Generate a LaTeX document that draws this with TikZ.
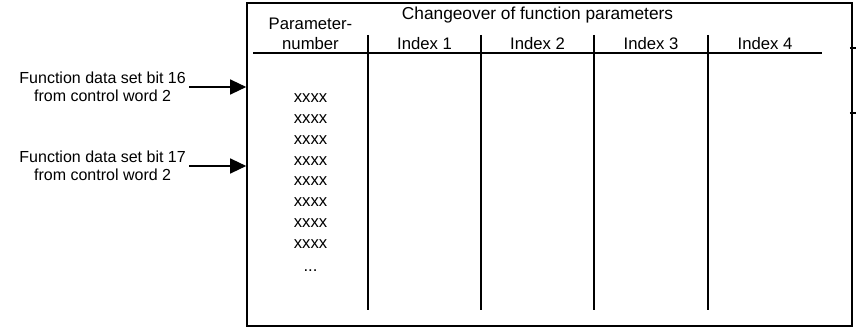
\documentclass[tikz,border=0pt]{standalone}
\usepackage{fontspec}
\setmainfont{Liberation Sans}
\usetikzlibrary{arrows.meta}
\begin{document}
\begin{tikzpicture}[x=1pt,y=1pt,
  tbl/.style={font=\fontsize{16.7}{19}\selectfont, inner sep=0pt, anchor=base},
  lbl/.style={font=\fontsize{16}{17.7}\selectfont, align=center, inner xsep=3pt, inner ysep=0pt, anchor=east},
  arr/.style={line width=1.3pt, -{Triangle[length=16pt,width=15pt]}},
  rule/.style={line width=1.3pt},
  frm/.style={draw, line width=1.6pt, minimum width=605pt, minimum height=323pt, inner sep=0pt}]
\useasboundingbox (0,0) rectangle (856,-334);
% frame
\node[frm] (frame) at (549.5,-164.5) {};
% grid
\coordinate (hl) at (253,-53);
\coordinate (hr) at (822,-53);
\draw[rule] (hl) -- (hr);
\foreach \cx [count=\i] in {368,481,594,708} {
  \coordinate (ct\i) at (\cx,-35);
  \coordinate (cb\i) at (\cx,-310);
  \draw[rule] (ct\i) -- (cb\i);
}
% header texts
\node[tbl, font=\fontsize{17.3}{19}\selectfont] (title) at (537.5,-20) {Changeover of function parameters};
\node[tbl] (pn1) at (310.5,-30) {Parameter-};
\node[tbl] (pn2) at (310.5,-50) {number};
\node[tbl] (i1) at (424.5,-50) {Index 1};
\node[tbl] (i2) at (537.5,-50) {Index 2};
\node[tbl] (i3) at (651,-50) {Index 3};
\node[tbl] (i4) at (765,-50) {Index 4};
% parameter list
\foreach \k in {0,...,7} {
  \node[tbl] (x\k) at (310.5,{-102.7-20.8*\k}) {xxxx};
}
\node[tbl] (dots) at (310.5,-271) {...};
% input labels
\node[lbl] (l1) at (189,-87) {Function data set bit 16\\from control word 2};
\node[lbl] (l2) at (189,-166) {Function data set bit 17\\from control word 2};
\draw[arr] (l1.east) -- (l1.east -| frame.west);
\draw[arr] (l2.east) -- (l2.east -| frame.west);
% outgoing stubs at right
\coordinate (o1) at (860,-48);
\coordinate (o2) at (860,-113);
\draw[rule] (o1 -| frame.east) ++(-3,0) -- (o1);
\draw[rule] (o2 -| frame.east) ++(-3,0) -- (o2);
\end{tikzpicture}
\end{document}
